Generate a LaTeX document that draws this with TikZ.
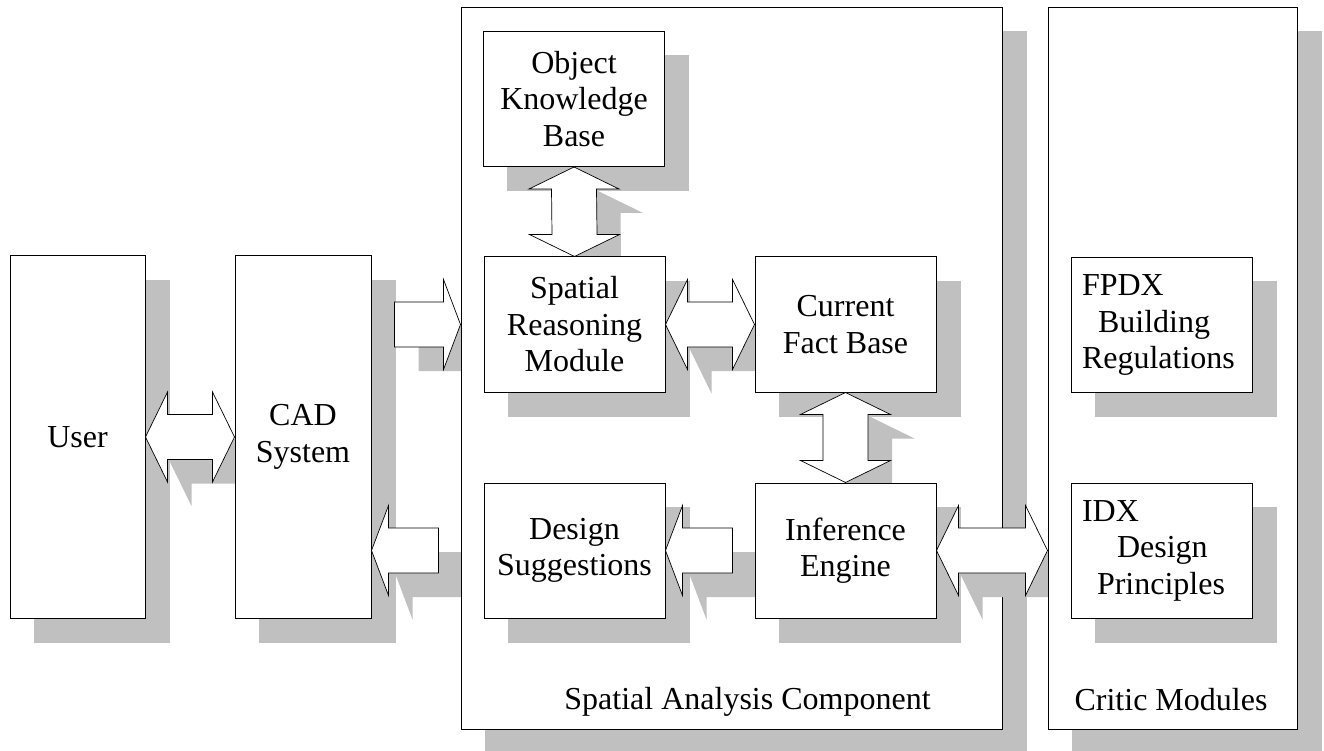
\documentclass[tikz,border=0pt]{standalone}
\usepackage{fontspec}
\setmainfont{Liberation Serif}
\usetikzlibrary{calc,positioning}
\definecolor{shadowgray}{RGB}{192,192,192}
\newcommand{\boxfont}{\fontsize{32pt}{36.5pt}\selectfont}

% layers: shadows of a group lie below the white shapes of that group
\pgfdeclarelayer{leftshadow}
\pgfdeclarelayer{left}
\pgfdeclarelayer{outer}
\pgfdeclarelayer{innershadow}
\pgfdeclarelayer{inner}
\pgfdeclarelayer{critic}
\pgfdeclarelayer{criticshadow}
\pgfsetlayers{leftshadow,left,outer,innershadow,inner,critic,criticshadow,main}

% fat double arrow, left tip #2, right tip #3
\newcommand{\dblharrow}[3][fat]{%
  \draw[#1] (#2) -- ++(22,-45) -- ++(0,22.5) -- ($(#3)+(-22,-22.5)$) -- ++(0,-22.5)
    -- (#3) -- ++(-22,45) -- ++(0,-22.5) -- ($(#2)+(22,22.5)$) -- ++(0,22.5) -- cycle;}
% fat double arrow, top tip #2, bottom tip #3
\newcommand{\dblvarrow}[3][fat]{%
  \draw[#1] (#2) -- ++(45,22) -- ++(-22.5,0) -- ($(#3)+(22.5,-22)$) -- ++(22.5,0)
    -- (#3) -- ++(-45,-22) -- ++(22.5,0) -- ($(#2)+(-22.5,22)$) -- ++(-22.5,0) -- cycle;}
% fat single arrow, tail #2, tip #3, direction #4 (1 right, -1 left)
\newcommand{\sglarrow}[4][fat]{%
  \draw[#1] (#3) -- ++({-17*(#4)},-45) -- ++(0,22.5) -- ($(#2)+(0,-22.5)$) -- ++(0,45)
    -- ($(#3)+({-17*(#4)},22.5)$) -- ++(0,22.5) -- cycle;}

\begin{document}
\begin{tikzpicture}[
  x=1pt,
  y=-1pt,
  box/.style={
    draw=black,
    line width=1pt,
    fill=white,
    font=\boxfont,
    align=center,
    inner sep=0pt,
    minimum width=181pt,
    minimum height=135pt
  },
  fat/.style={draw=black,line width=0.7pt,fill=white},
  dropgray/.style={fill=shadowgray,draw=none,
    transform canvas={xshift=24pt,yshift=-24pt}},
  lbl/.style={font=\boxfont,inner sep=0pt}
]
\useasboundingbox (0,0) rectangle (1324,751);

% User and CAD system
\begin{pgfonlayer}{left}
\node[box,minimum width=135pt,minimum height=362pt] (User) at (77.5,437) {User};
\node[box,minimum width=136pt,minimum height=362pt] (CAD) at (303,437) {CAD\\System};
\end{pgfonlayer}

% Outer frames
\begin{pgfonlayer}{outer}
\node[box,minimum width=541pt,minimum height=721pt] (SAC) at (731.5,368.5) {};
\end{pgfonlayer}
\begin{pgfonlayer}{critic}
\node[box,minimum width=249pt,minimum height=721pt] (Critic) at (1172.5,368.5) {};
\end{pgfonlayer}

% Spatial analysis modules
\begin{pgfonlayer}{inner}
\node[box] (OKB) at (574,99) {Object\\Knowledge\\Base};
\node[box] (SRM) at (574.5,324.5) {Spatial\\Reasoning\\Module};
\node[box] (CFB) at (845.5,324.5) {Current\\Fact Base};
\node[box] (DS) at (574.5,550.5) {Design\\Suggestions};
\node[box] (IE) at (845.5,550.5) {Inference\\Engine};
\end{pgfonlayer}

% Critic modules
\node[box,align=left,text width=159pt] (FPDX) at (1161.5,325)
  {FPDX\\\hspace*{16pt}Building\\Regulations};
\node[box,align=left,text width=159pt] (IDX) at (1161.5,550.5)
  {IDX\\\hspace*{35pt}Design\\\hspace*{15pt}Principles};

% Frame labels
\node[lbl,anchor=base] (sacLabel) at ($(SAC.south)+(16,-20)$)
  {Spatial Analysis Component};
\node[lbl,anchor=base] (criticLabel) at ($(Critic.south)+(-1.5,-19)$)
  {Critic Modules};

% Arrow ends
\coordinate (toSRMtail) at ($(CAD.east |- SRM.west)+(23,0)$);
\coordinate (toSRMtip) at (SAC.west |- SRM.west);
\coordinate (toCADtail) at ($(SAC.west |- DS.west)+(-22,0)$);
\coordinate (toCADtip) at (CAD.east |- DS.west);
\coordinate (toDStail) at ($(IE.west)+(-22,0)$);
\coordinate (toCritic) at (IE.east -| Critic.west);

% Arrows and shadows, left group
\begin{pgfonlayer}{left}
\dblharrow{User.east}{CAD.west}
\sglarrow{toSRMtail}{toSRMtip}{1}
\sglarrow{toCADtail}{toCADtip}{-1}
\end{pgfonlayer}
\begin{pgfonlayer}{leftshadow}
\foreach \n in {User,CAD,SAC,Critic}
  \fill[dropgray] (\n.north west) rectangle (\n.south east);
\dblharrow[dropgray]{User.east}{CAD.west}
\sglarrow[dropgray]{toSRMtail}{toSRMtip}{1}
\sglarrow[dropgray]{toCADtail}{toCADtip}{-1}
\end{pgfonlayer}

% Arrows and shadows, spatial analysis
\begin{pgfonlayer}{inner}
\dblvarrow{OKB.south}{SRM.north}
\dblharrow{SRM.east}{CFB.west}
\dblvarrow{CFB.south}{IE.north}
\sglarrow{toDStail}{DS.east}{-1}
\dblharrow{IE.east}{toCritic}
\end{pgfonlayer}
\begin{pgfonlayer}{innershadow}
\foreach \n in {OKB,SRM,CFB,DS,IE}
  \fill[dropgray] (\n.north west) rectangle (\n.south east);
\dblvarrow[dropgray]{OKB.south}{SRM.north}
\dblharrow[dropgray]{SRM.east}{CFB.west}
\dblvarrow[dropgray]{CFB.south}{IE.north}
\sglarrow[dropgray]{toDStail}{DS.east}{-1}
\dblharrow[dropgray]{IE.east}{toCritic}
\end{pgfonlayer}

\begin{pgfonlayer}{criticshadow}
\foreach \n in {FPDX,IDX}
  \fill[dropgray] (\n.north west) rectangle (\n.south east);
\end{pgfonlayer}
\end{tikzpicture}
\end{document}
